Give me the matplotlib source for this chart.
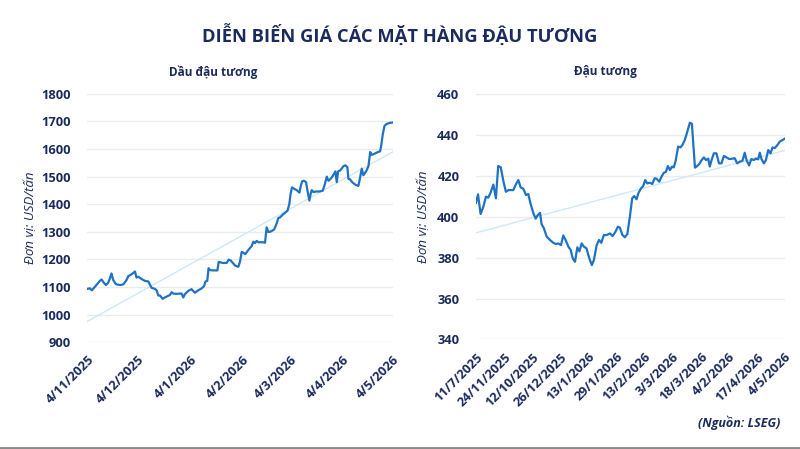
import numpy as np
import pandas as pd
import matplotlib
matplotlib.use("Agg")
import matplotlib.pyplot as plt

plt.rcParams['font.family'] = ['Open Sans', 'DejaVu Sans']

# ---------------- data ----------------
oil_start = "2025-11-04"
oil_days = [0,1.6,2.8,4.5,7.5,8.5,9.9,11.1,12.4,13.4,
            14.4,15.4,17.0,19.4,21.3,23.3,24.3,26.3,28.3,29.2,
            30.2,32.2,34.2,36.2,38.1,40.1,41.1,42.1,43.1,44.7,
            46.0,47.4,49.0,50.0,51.0,53.0,54.9,55.9,56.9,57.9,
            59.9,61.8,63.8,65.8,67.8,69.2,70.1,71.1,71.9,72.7,
            74.7,77.1,77.9,78.6,80.2,82.6,83.8,85.0,86.5,87.5,
            89.5,90.5,91.5,92.5,93.7,95.4,97.4,98.4,99.4,100.4,
            101.4,104.3,105.3,106.3,107.3,108.7,110.7,112.2,113.2,114.2,
            115.8,117.2,118.6,119.7,120.5,121.3,122.5,124.1,125.7,126.5,
            127.3,128.4,129.6,130.4,131.6,132.4,133.0,134.0,135.6,137.5,
            139.5,140.9,141.9,142.9,143.9,145.2,146.4,147.0,147.8,148.6,
            149.8,151.8,152.9,154.1,154.7,155.7,156.9,158.7,160.6,161.6,
            162.6,163.6,165.2,166.6,167.6,168.6,169.5,171.5,173.5,174.1,
            175.1,176.1,177.4,179.4,181]
oil_values = [1093,1095,1088,1100,1122,1127,1115,1107,1115,1130,
              1149,1125,1110,1107,1109,1125,1139,1146,1156,1134,
              1137,1129,1122,1120,1097,1093,1088,1069,1069,1057,
              1062,1066,1071,1081,1076,1075,1076,1076,1062,1074,
              1086,1092,1079,1088,1095,1103,1120,1122,1168,1161,
              1160,1160,1191,1190,1187,1187,1199,1196,1185,1178,
              1173,1192,1227,1224,1219,1234,1248,1264,1259,1267,
              1262,1262,1260,1316,1299,1301,1308,1330,1350,1352,
              1362,1369,1376,1400,1439,1461,1456,1451,1442,1466,
              1483,1485,1480,1451,1413,1439,1451,1444,1446,1446,
              1449,1476,1500,1485,1490,1500,1512,1519,1480,1519,
              1522,1538,1541,1534,1492,1490,1480,1471,1466,1495,
              1529,1505,1519,1538,1589,1579,1581,1587,1592,1611,
              1655,1684,1691,1695,1696]
oil_tick_dates = ["2025-11-04","2025-12-04","2026-01-04","2026-02-04",
                  "2026-03-04","2026-04-04","2026-05-04"]
oil_tick_labels = ["4/11/2025","4/12/2025","4/1/2026","4/2/2026",
                   "4/3/2026","4/4/2026","4/5/2026"]
oil_yticks = [900,1000,1100,1200,1300,1400,1500,1600,1700,1800]

soy_pos = [0.0,0.8,1.8,2.9,3.9,4.8,5.7,6.8,7.8,8.7,
           9.7,10.7,11.7,12.7,14.6,15.7,16.6,17.5,18.5,19.6,
           20.5,21.4,22.5,23.4,24.1,25.1,25.7,26.6,27.7,29.0,
           30.3,31.3,32.2,33.3,34.2,35.1,36.2,37.1,37.9,38.8,
           39.7,40.5,41.4,42.3,43.3,44.4,45.4,46.2,47.3,48.2,
           49.1,50.1,51.2,52.5,53.5,54.6,55.6,56.4,57.3,58.3,
           59.3,60.3,61.2,62.0,62.9,63.7,64.7,65.5,66.3,67.1,
           68.1,69.1,70.0,70.7,71.8,72.7,73.6,74.4,75.2,76.0,
           76.8,77.5,78.3,79.2,80.1,80.9,81.8,82.8,83.8,84.6,
           85.8,86.4,87.5,88.4,89.3,90.1,91.0,91.6,92.3,93.2,
           94.2,95.2,96.2,97.1,98.2,99.2,100.5,101.4,102.3,103.4,
           104.4,105.3,106.0,107.0,107.9,108.9,109.6,110.6,111.2,111.9,
           112.8,113.6,114.5,115.4,116.2,117.1,118.0,119.0,120.1,121.0]
soy_values = [406.9,411.0,401.4,405.0,409.9,409.4,411.8,415.8,409.1,424.9,
              424.2,417.7,412.3,413.1,413.1,416.1,418.0,414.4,413.8,410.7,
              411.2,406.3,401.7,399.1,400.7,402.0,396.5,394.4,390.3,388.7,
              387.3,386.7,387.0,386.2,390.9,388.7,385.4,383.8,379.7,378.0,
              385.1,383.1,387.0,385.4,384.6,379.7,376.4,378.9,386.2,388.7,
              387.3,391.1,391.1,391.9,390.6,392.6,395.2,394.7,391.3,390.0,
              391.6,400.1,409.1,410.2,408.6,411.8,414.0,415.1,418.0,416.4,
              416.7,416.1,418.9,418.7,417.2,419.7,421.6,422.0,424.9,422.9,
              424.6,424.2,427.8,434.4,434.0,435.2,437.6,441.7,446.1,445.5,
              424.1,424.6,425.9,427.8,429.1,427.8,428.5,424.6,427.8,431.1,
              431.1,426.2,426.2,429.8,429.1,428.3,428.5,428.7,426.2,427.0,
              427.5,431.4,427.8,425.2,428.3,427.8,428.5,428.2,431.4,428.2,
              426.2,427.8,432.7,431.1,434.0,433.7,435.0,436.8,437.6,438.3]
soy_tick_labels = ["11/7/2025","24/11/2025","12/10/2025","26/12/2025",
                   "13/1/2026","29/1/2026","13/2/2026","3/3/2026",
                   "18/3/2026","4/2/2026","17/4/2026","4/5/2026"]
soy_tick_step = 11
soy_yticks = [340,360,380,400,420,440,460]

# ---------------- style ----------------
NAVY = "#1c2b5e"
LINE = "#1f72c4"
TREND = "#cfe8f7"
GRID = "#ececec"
TICK_FS = 9.3

fig = plt.figure(figsize=(8.0, 4.49), dpi=100)
fig.patch.set_facecolor("white")

fig.text(0.5, 0.922, "DIỄN BIẾN GIÁ CÁC MẶT HÀNG ĐẬU TƯƠNG", ha="center",
         va="center", fontsize=13.2, fontweight="bold", color=NAVY)

ax1 = fig.add_axes([0.109, 0.238, 0.382, 0.553])
ax2 = fig.add_axes([0.595, 0.244, 0.386, 0.546])

def style(ax, yticks):
    for s in ax.spines.values():
        s.set_visible(False)
    ax.set_yticks(yticks)
    ax.set_ylim(yticks[0], yticks[-1])
    ax.grid(axis="y", color=GRID, linewidth=1.0)
    ax.set_axisbelow(True)
    ax.tick_params(axis="both", length=0, colors=NAVY, labelsize=TICK_FS)
    for lab in ax.get_yticklabels():
        lab.set_fontweight("bold")
    ax.tick_params(axis="y", pad=12)

# left chart
start = pd.Timestamp(oil_start)
oil_x = np.array([(start + pd.Timedelta(days=d)).to_datetime64() for d in oil_days])
tick_x = [pd.Timestamp(t) for t in oil_tick_dates]
ox = np.array(oil_days)
oy = np.array(oil_values)
k, b = np.polyfit(ox, oy, 1)
ax1.plot([start, start + pd.Timedelta(days=ox[-1])], [b, k * ox[-1] + b],
         color=TREND, linewidth=1.0, zorder=2)
ax1.plot(oil_x, oil_values, color=LINE, linewidth=1.6, zorder=3)
style(ax1, oil_yticks)
ax1.set_xlim(tick_x[0], tick_x[-1])
ax1.set_xticks(tick_x)
ax1.set_xticklabels(oil_tick_labels, rotation=45, ha="right",
                    rotation_mode="anchor", fontweight="bold", fontsize=TICK_FS)
ax1.tick_params(axis="x", pad=8)
ax1.set_ylabel("Đơn vị: USD/tấn", fontstyle="italic", color=NAVY, fontsize=9.5)
ax1.yaxis.set_label_coords(-0.163, 0.5)
fig.text(0.266, 0.84, "Dầu đậu tương", ha="center", va="center",
         fontsize=8.5, fontweight="bold", color=NAVY)

# right chart
sx = np.array(soy_pos)
sy = np.array(soy_values)
k2, b2 = np.polyfit(sx, sy, 1)
ax2.plot([sx[0], sx[-1]], [k2 * sx[0] + b2, k2 * sx[-1] + b2],
         color=TREND, linewidth=1.0, zorder=2)
ax2.plot(sx, sy, color=LINE, linewidth=1.6, zorder=3)
style(ax2, soy_yticks)
soy_ticks = [i * soy_tick_step for i in range(len(soy_tick_labels))]
ax2.set_xlim(soy_ticks[0], soy_ticks[-1])
ax2.set_xticks(soy_ticks)
ax2.set_xticklabels(soy_tick_labels, rotation=45, ha="right",
                    rotation_mode="anchor", fontweight="bold", fontsize=TICK_FS)
ax2.tick_params(axis="x", pad=8)
ax2.set_ylabel("Đơn vị: USD/tấn", fontstyle="italic", color=NAVY, fontsize=9.5)
ax2.yaxis.set_label_coords(-0.149, 0.5)
fig.text(0.757, 0.84, "Đậu tương", ha="center", va="center",
         fontsize=8.5, fontweight="bold", color=NAVY)

fig.text(0.976, 0.058, "(Nguồn: LSEG)", ha="right", va="center", fontsize=9,
         fontweight="bold", fontstyle="italic", color=NAVY)

fig.add_artist(plt.Line2D([0, 1], [0.003, 0.003], color="#8a8a8a", linewidth=2,
                          transform=fig.transFigure))

fig.savefig("out.png", dpi=100, facecolor="white")
